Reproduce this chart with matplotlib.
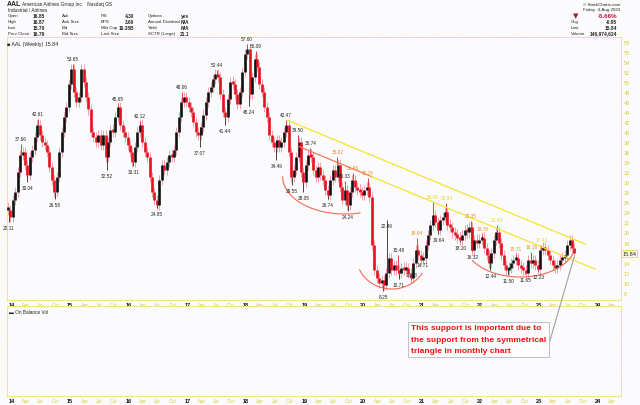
import numpy as np
import matplotlib.pyplot as plt
from matplotlib.transforms import blended_transform_factory

W, H = 640, 406
RED = '#e3101e'
BLACK = '#111111'
ORANGE = '#f08a1c'
YELLOW = '#e6d22a'
AXIS_YEL = '#d8cc30'
BG = '#fbfbfd'

# semi-monthly closes (first bar mid-Dec 2013)
close_2014 = [24.5, 23.0, 26.5, 28.0, 32.0, 35.5, 36.0, 33.5, 31.5, 35.0, 36.5, 39.0,
              41.5, 39.5, 38.0, 37.5, 36.0, 33.0, 30.5, 28.0, 31.0, 36.0, 40.0, 43.0]
close_2015 = [45.0, 49.5, 52.5, 48.0, 46.0, 47.0, 52.5, 50.0, 47.0, 44.5, 40.0, 39.0,
              38.0, 39.5, 37.5, 39.5, 35.0, 38.0, 40.5, 40.0, 43.0, 45.0, 41.5, 40.0]
close_2016 = [39.0, 37.5, 36.0, 34.0, 37.0, 40.0, 41.5, 38.0, 36.0, 35.0, 31.0, 28.0,
              26.5, 25.5, 30.5, 33.5, 32.5, 34.0, 35.5, 35.0, 36.5, 40.0, 43.0, 46.0]
close_2017 = [47.0, 46.0, 45.0, 44.0, 42.0, 40.0, 39.5, 41.0, 43.5, 46.0, 48.0, 49.0,
              50.5, 51.5, 51.0, 47.5, 44.0, 43.0, 46.5, 50.0, 49.5, 47.5, 45.5, 48.0]
close_2018 = [52.0, 55.5, 56.5, 47.5, 51.0, 54.5, 53.0, 49.5, 48.0, 45.0, 43.0, 39.5,
              38.0, 37.0, 38.5, 37.0, 38.0, 40.0, 41.5, 36.0, 31.0, 32.5, 35.0, 38.0]
close_2019 = [32.0, 30.0, 33.5, 35.5, 35.0, 32.5, 31.0, 33.0, 31.5, 30.5, 28.5, 27.5,
              30.5, 32.5, 31.0, 33.5, 29.0, 26.5, 28.5, 25.5, 28.0, 30.5, 29.0, 28.5]
close_2020 = [28.0, 27.5, 28.5, 29.0, 27.0, 17.5, 12.5, 11.0, 10.0, 10.5, 9.5, 12.0,
              15.0, 12.5, 13.5, 12.5, 12.0, 13.0, 12.5, 13.0, 12.0, 11.0, 14.0, 16.5]
close_2021 = [15.5, 14.5, 15.0, 17.5, 19.5, 21.5, 23.5, 22.0, 20.5, 22.5, 23.0, 24.0,
              21.5, 21.0, 20.0, 19.5, 19.0, 18.5, 19.5, 20.5, 20.0, 21.0, 16.5, 18.5]
close_2022 = [18.0, 18.5, 19.0, 17.0, 15.5, 14.0, 16.0, 18.5, 20.0, 18.0, 15.5, 13.5,
              12.5, 13.0, 14.0, 14.5, 15.0, 13.5, 13.0, 12.5, 12.0, 14.5, 14.0, 14.5]
close_2023 = [13.5, 12.8, 16.5, 17.0, 16.5, 15.5, 14.5, 13.5, 13.0, 13.5, 14.5, 15.0,
              15.5, 17.5, 18.5, 17.0, 15.84]
closes = (close_2014 + close_2015 + close_2016 + close_2017 + close_2018 +
          close_2019 + close_2020 + close_2021 + close_2022 + close_2023)
start = 2013.94
dates = start + np.arange(len(closes)) / 24

# labelled swing highs / lows: date, price, colour, 'h' or 'l'
ext_dates = [2013.96, 2014.16, 2014.27, 2014.45, 2014.74, 2015.05, 2015.63, 2015.82,
             2016.08, 2016.19, 2016.48, 2016.91, 2017.22, 2017.51, 2017.65, 2018.02,
             2018.05, 2018.17, 2018.52, 2018.69, 2018.79, 2018.89, 2018.98, 2019.10,
             2019.40, 2019.56, 2019.69, 2019.74, 2019.83, 2020.08, 2020.34, 2020.41,
             2020.60, 2020.61, 2020.82, 2020.92, 2021.02, 2021.19, 2021.28, 2021.42,
             2021.66, 2021.84, 2021.86, 2022.03, 2022.17, 2022.28, 2022.48, 2022.61,
             2022.77, 2022.87, 2022.99, 2023.04, 2023.30, 2023.52]
ext_vals = [22.11, 37.66, 30.04, 42.61, 26.58, 53.65, 32.52, 45.65,
            33.31, 42.12, 24.85, 48.06, 37.07, 52.44, 41.44, 57.60,
            45.24, 56.09, 34.49, 42.47, 29.55, 39.50, 28.05, 36.74,
            26.74, 35.02, 30.33, 24.24, 31.86, 30.78, 8.25, 22.49,
            15.48, 10.71, 10.63, 18.94, 14.71, 26.09, 19.64, 25.94,
            18.20, 22.35, 16.32, 19.76, 12.44, 21.42, 11.50, 15.71,
            11.65, 16.16, 12.23, 17.43, 12.45, 19.08]
ext_kind = 'lhlhlhlh' + 'lhlhlhlh' + 'lhlhlhlh' + 'lhhlhhll' + 'hlhhlhlh' + 'lhlhlhlh' + 'lhlh'
ext_color = ['k'] * 25 + ['o', 'k', 'k', 'o', 'o', 'k', 'k', 'k', 'k', 'k', 'o', 'k',
                          'y', 'k', 'y', 'k', 'o', 'k', 'o', 'k', 'y', 'k', 'o', 'k',
                          'o', 'k', 'y', 'k', 'y']
cmap = {'k': '#222222', 'o': ORANGE, 'y': YELLOW}

# pattern lines drawn by the analyst (date, price)
upper_line = ([2018.70, 2023.79], [42.4, 17.7])
lower_line_a = ([2018.89, 2020.15], [37.2, 31.1])
lower_line_b = ([2020.15, 2023.96], [31.1, 12.7])
# rounded bottoms: centre date, centre price, half-width (yr), half-height, start/end angle
arcs = [(2019.69, 31.05, 1.06, 7.37, 180, 284),
        (2020.49, 15.11, 0.60, 6.37, 204, 329),
        (2022.68, 17.70, 0.94, 6.57, 210, 344)]

fig = plt.figure(figsize=(W / 100, H / 100), dpi=100, facecolor=BG)
plt.rcParams['font.family'] = ['Liberation Sans', 'DejaVu Sans']

def fx(px):
    return px / W

def fy(py):
    return 1 - py / H

ax = fig.add_axes([fx(7), fy(301), fx(621) - fx(7), fy(38) - fy(301)], facecolor=BG)
obv = fig.add_axes([fx(7), fy(397), fx(621) - fx(7), fy(307) - fy(397)], facecolor=BG)

xlim = (2013.925, 2024.40)
for a in (ax, obv):
    a.set_xlim(*xlim)
    for s in a.spines.values():
        s.set_linestyle((0, (1, 1.5)))
        s.set_color('#e8e070')
        s.set_linewidth(0.7)
ax.set_ylim(6.55, 58.94)
obv.set_yticks([])

# price bars
c = np.array(closes)
o = np.concatenate([[c[0]], c[:-1]])
cols = np.where(c >= o, BLACK, RED)
lo = np.minimum(o, c)
hi = np.maximum(o, c)
hi = np.where(hi - lo < 0.6, lo + 0.6, hi)
ax.vlines(dates, lo - 1.0, hi + 1.0, colors='#f2a0a8', lw=0.7, zorder=2)
ax.vlines(dates, lo, hi, colors=cols, lw=1.9, zorder=3)

# wicks to labelled extremes and their labels
for d, v, k, cc in zip(ext_dates, ext_vals, ext_kind, ext_color):
    i = int(np.argmin(np.abs(dates - d)))
    base = c[i]
    ax.vlines(d, min(base, v), max(base, v), colors='#e0404a' if k == 'h' else '#444444',
              lw=0.7, zorder=2)
    dy = 0.6 if k == 'h' else -0.6
    ax.text(d, v + dy, f'{v:.2f}', ha='center', va='bottom' if k == 'h' else 'top',
            fontsize=3.4, color=cmap[cc], zorder=5)

# trend lines and rounded bottoms
ax.plot(*upper_line, color='#f2e430', lw=0.9, zorder=4)
ax.plot(*lower_line_a, color='#f47a5a', lw=0.9, zorder=4)
ax.plot(*lower_line_b, color='#f2e430', lw=0.9, zorder=4)
for cx, cy, rx, ry, t1, t2 in arcs:
    t = np.radians(np.linspace(t1, t2, 60))
    ax.plot(cx + rx * np.cos(t), cy + ry * np.sin(t), color='#f26a55', lw=0.8, zorder=4)

# y axis on right (16 sits under the last-price tag)
yt = [v for v in range(8, 59, 2) if v != 16]
ax.set_yticks(yt)
ax.yaxis.tick_right()
ax.tick_params(axis='y', length=0, pad=2, labelsize=4, labelcolor=AXIS_YEL)
tr = blended_transform_factory(ax.transAxes, ax.transData)
ax.text(1.002, closes[-1], f'{closes[-1]:.2f}', transform=tr, fontsize=4, va='center',
        ha='left', color='#222222', clip_on=False,
        bbox=dict(boxstyle='square,pad=0.2', fc='#fffbe0', ec=YELLOW, lw=0.5), zorder=20)

# x axes: years bold black, quarters yellow
years = list(range(2014, 2025))
year_labels = ['14', '15', '16', '17', '18', '19', '20', '21', '22', '23', '24']
quarters = [(0.247, 'Apr'), (0.496, 'Jul'), (0.748, 'Oct')]
ticks, labels, kinds = [], [], []
for y, yl in zip(years, year_labels):
    ticks.append(y); labels.append(yl); kinds.append('y')
    for q, ql in quarters:
        if y + q < xlim[1]:
            ticks.append(y + q); labels.append(ql); kinds.append('q')
for a in (ax, obv):
    a.set_xticks(ticks)
    a.set_xticklabels(labels)
    a.tick_params(axis='x', length=0, pad=1.5, labelsize=3.6)
    for lab, k in zip(a.get_xticklabels(), kinds):
        if k == 'y':
            lab.set_color('#111111'); lab.set_fontweight('bold'); lab.set_fontsize(4)
        else:
            lab.set_color(AXIS_YEL)

# legends
ax.text(0.0, 0.985, '■ AAL (Weekly) 15.84', transform=ax.transAxes, fontsize=3.8,
        va='top', ha='left', color='#222222')
obv.text(0.003, 0.97, '▬ On Balance Vol', transform=obv.transAxes, fontsize=3.4,
         va='top', ha='left', color='#222222')

# header block
def ftext(px, py, s, **kw):
    kw.setdefault('fontsize', 3.2)
    kw.setdefault('color', '#222222')
    fig.text(fx(px), fy(py), s, va='center', **kw)

ftext(7, 4.5, 'AAL', fontweight='bold', fontsize=5)
ftext(22, 4.5, 'American Airlines Group Inc.   Nasdaq GS', fontsize=3.4)
ftext(8, 10.5, 'Industrial / Airlines', fontsize=3.4)
row_y = [16.3, 22.2, 28.2, 34.0]
col1 = [('Open', '16.85'), ('High', '16.87'), ('Low', '15.70'), ('Prev Close', '16.79')]
col2 = ['Ask', 'Ask Size', 'Bid', 'Bid Size']
col3 = [('P/E', '4.30'), ('EPS', '3.69'), ('Mkt Cap', '10.38B'), ('Last Size', '')]
col4 = [('Options', 'yes'), ('Annual Dividend', 'N/A'), ('Yield', 'N/A'),
        ('SCTR (Large)', '21.1')]
for yy, (l1, v1), l2, (l3, v3), (l4, v4) in zip(row_y, col1, col2, col3, col4):
    ftext(8, yy, l1)
    ftext(45, yy, v1, ha='right', fontweight='bold', fontsize=3.5)
    ftext(62, yy, l2)
    ftext(101, yy, l3)
    ftext(134, yy, v3, ha='right', fontweight='bold', fontsize=3.4)
    ftext(148, yy, l4)
    ftext(189, yy, v4, ha='right', fontweight='bold', fontsize=3.5)

ftext(620, 4.5, '© StockCharts.com', ha='right')
ftext(620, 10.5, 'Friday  4-Aug-2023', ha='right')
ftext(573, 16.3, '▼', color='#b0102a', fontsize=5, family='DejaVu Sans')
ftext(617, 16.3, '-5.66%', ha='right', color='#c8102e', fontweight='bold', fontsize=4.4)
for yy, l, v in zip([22.2, 28.2, 34.0], ['Chg', 'Last', 'Volume'],
                    ['-0.95', '15.84', '146,974,624']):
    ftext(571, yy, l)
    ftext(617, yy, v, ha='right', fontweight='bold', fontsize=3.5)

# annotation box with callout line (drawn from the lower panel so it sits on top)
note = ('This support is important due to\n'
        'the support from the symmetrical\n'
        'triangle in monthly chart')
obv.annotate(note, xy=(2023.60, 15.1), xycoords=ax.transData,
             xytext=(fx(411), fy(355)), textcoords='figure fraction',
             ha='left', va='bottom', fontsize=6.0, fontweight='bold', color='#ee1111',
             family=['Liberation Sans Narrow', 'Liberation Sans', 'DejaVu Sans'],
             linespacing=1.85, annotation_clip=False,
             bbox=dict(boxstyle='square,pad=0.35', fc='#fdfdfd', ec='#b8b8b8', lw=0.6),
             arrowprops=dict(arrowstyle='-', color='#a0a0a0', lw=0.8,
                             relpos=(1.0, 0.0), shrinkA=0, shrinkB=0),
             zorder=10)

fig.savefig('out.png', dpi=100, facecolor=BG)
